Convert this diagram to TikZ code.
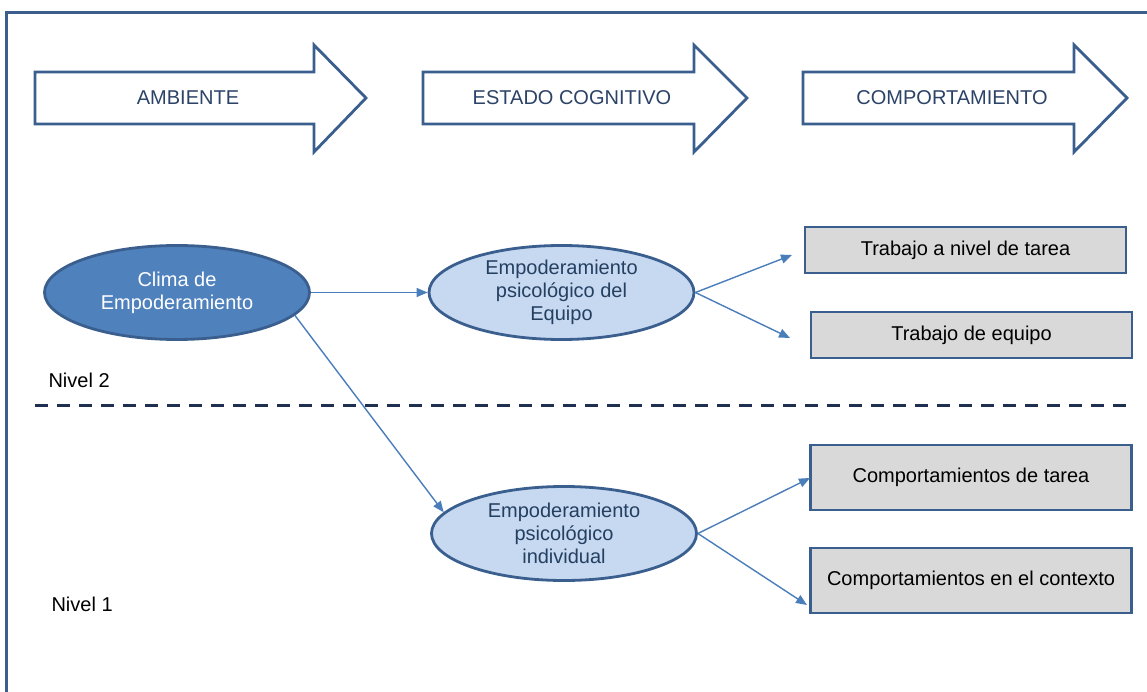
\documentclass[tikz,border=0pt]{standalone}
\usepackage{fontspec}
\setmainfont{Liberation Sans}
\usetikzlibrary{shapes.geometric,arrows.meta}
\definecolor{frameblue}{HTML}{3B5E8C}
\definecolor{outline}{HTML}{3A5F8E}
\definecolor{headtext}{HTML}{2C4368}
\definecolor{darkfill}{HTML}{4F81BD}
\definecolor{lightfill}{HTML}{C6D9F1}
\definecolor{lighttext}{HTML}{243F60}
\definecolor{boxfill}{HTML}{D9D9D9}
\definecolor{linkblue}{HTML}{4A7EBB}
\definecolor{dashnavy}{HTML}{1F2F4F}
\begin{document}
\begin{tikzpicture}[x=1pt,y=-1pt,
  every node/.style={font=\fontsize{20}{23}\selectfont},
  blockarrow/.style={draw=outline,line width=2.8pt,fill=white,line join=miter},
  headlabel/.style={text=headtext},
  darkoval/.style={ellipse,draw=outline,line width=2.8pt,fill=darkfill,text=white,
    minimum width=265pt,minimum height=94pt,inner sep=0pt,align=center},
  lightoval/.style={ellipse,draw=outline,line width=2.8pt,fill=lightfill,text=lighttext,
    minimum width=265pt,minimum height=94pt,inner sep=0pt,align=center},
  outbox/.style={rectangle,draw=outline,line width=2.8pt,fill=boxfill,text=black,
    minimum width=321pt,inner sep=0pt},
  link/.style={draw=linkblue,line width=1.4pt,-{Triangle[length=11pt,width=9pt]}},
  levellabel/.style={anchor=west,text=black}]
\useasboundingbox (0,0) rectangle (1147,692);
\fill[white] (0,0) rectangle (1147,692);
% outer frame (runs off the right and bottom edges)
\draw[frameblue,line width=3pt] (6,13) rectangle (1170,720);

% phase arrows
\draw[blockarrow] (35,72) -- (314,72) -- (314,45) -- (366,98) -- (314,152) -- (314,124) -- (35,124) -- cycle;
\draw[blockarrow] (423,72) -- (694,72) -- (694,45) -- (747,98) -- (694,152) -- (694,124) -- (423,124) -- cycle;
\draw[blockarrow] (803,72) -- (1074,72) -- (1074,45) -- (1127,98) -- (1074,152) -- (1074,124) -- (803,124) -- cycle;
\node[headlabel] (amb) at (188,98) {AMBIENTE};
\node[headlabel] (est) at (572,98) {ESTADO COGNITIVO};
\node[headlabel] (comp) at (952,98) {COMPORTAMIENTO};

% level separator
\draw[dashnavy,line width=3pt,dash pattern=on 13pt off 9pt] (35,405) -- (1127,405);
\node[levellabel] (n2) at (45,380) {Nivel 2};
\node[levellabel] (n1) at (48,604) {Nivel 1};

% constructs
\node[darkoval] (clima) at (177,292.5) {Clima de\\Empoderamiento};
\node[lightoval] (equipo) at (561.5,292.5) {Empoderamiento\\psicológico del\\Equipo};
\node[lightoval] (indiv) at (564,533.5) {Empoderamiento\\psicológico\\individual};

% outcomes
\node[outbox,minimum height=46pt] (b1) at (965.5,250) {Trabajo a nivel de tarea};
\node[outbox,minimum height=46pt] (b2) at (971.5,335) {Trabajo de equipo};
\node[outbox,minimum height=65pt] (b3) at (971,477.5) {Comportamientos de tarea};
\node[outbox,minimum height=65pt] (b4) at (971,580.5) {Comportamientos en el contexto};

% arrow ends
\coordinate (t1) at (792,255);
\coordinate (t2) at (790,338);
\coordinate (t3) at (810,478);
\coordinate (t4) at (807,605);

% links
\draw[link] (clima.east) -- (equipo.west);
\draw[link] (clima.-11) -- (indiv.170);
\draw[link] (equipo.east) -- (t1);
\draw[link] (equipo.east) -- (t2);
\draw[link] (indiv.east) -- (t3);
\draw[link] (indiv.east) -- (t4);
\end{tikzpicture}
\end{document}
